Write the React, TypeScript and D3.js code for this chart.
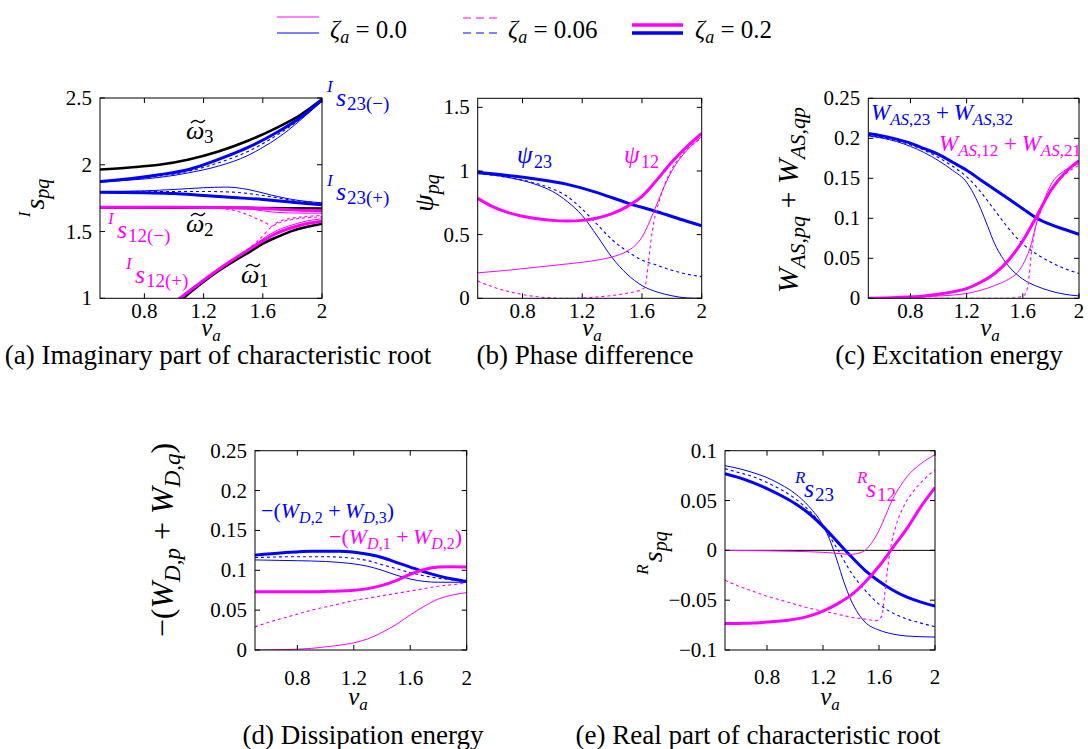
import React from "react";
import * as d3 from "d3";

const SERIF = "Liberation Serif, DejaVu Serif, serif";
const MAG = "#ff00ff";
const BLU = "#0000ff";
const BLK = "#000000";

type Pt = [number, number];

const NU_TICKS = [0.8, 1.2, 1.6, 2];

// ---------- (a) imaginary part ----------
const A_OMEGA3: Pt[] = [[0.5,1.965],[0.7,1.98],[0.9,2.0],[1.1,2.04],[1.3,2.1],[1.5,2.18],[1.7,2.28],[1.85,2.37],[2.0,2.49]];
const A_OMEGA2: Pt[] = [[0.5,1.68],[1.0,1.679],[1.5,1.677],[2.0,1.672]];
const A_OMEGA1: Pt[] = [[1.0,0.945],[1.06,1.0],[1.2,1.125],[1.3,1.205],[1.4,1.275],[1.5,1.34],[1.6,1.41],[1.7,1.46],[1.8,1.505],[1.9,1.535],[2.0,1.558]];
const A_S23M_THIN: Pt[] = [[0.5,1.87],[0.7,1.885],[0.9,1.905],[1.1,1.94],[1.3,1.99],[1.5,2.07],[1.6,2.13],[1.7,2.2],[1.85,2.33],[2.0,2.48]];
const A_S23M_DASH: Pt[] = [[0.5,1.872],[0.7,1.89],[0.9,1.915],[1.1,1.952],[1.3,2.015],[1.5,2.1],[1.7,2.225],[1.85,2.34],[2.0,2.482]];
const A_S23M_THICK: Pt[] = [[0.5,1.875],[0.7,1.895],[0.9,1.925],[1.1,1.965],[1.3,2.04],[1.5,2.13],[1.7,2.245],[1.85,2.35],[2.0,2.485]];
const A_S23P_THIN: Pt[] = [[0.5,1.80],[0.8,1.805],[1.0,1.815],[1.2,1.828],[1.35,1.833],[1.5,1.815],[1.65,1.775],[1.8,1.74],[2.0,1.715]];
const A_S23P_DASH: Pt[] = [[0.5,1.797],[0.8,1.798],[1.0,1.80],[1.2,1.80],[1.4,1.795],[1.6,1.77],[1.8,1.735],[2.0,1.71]];
const A_S23P_THICK: Pt[] = [[0.5,1.795],[0.8,1.79],[1.0,1.785],[1.2,1.77],[1.4,1.755],[1.6,1.74],[1.8,1.72],[2.0,1.70]];
const A_S12M_THIN: Pt[] = [[0.5,1.682],[1.2,1.682],[1.4,1.678],[1.5,1.67],[1.6,1.655],[1.7,1.643],[1.85,1.638],[2.0,1.637]];
const A_S12M_DASH: Pt[] = [[0.5,1.682],[1.2,1.68],[1.35,1.67],[1.45,1.645],[1.55,1.6],[1.62,1.565],[1.66,1.54],[1.7,1.57],[1.8,1.6],[2.0,1.62]];
const A_S12M_THICK: Pt[] = [[0.5,1.682],[1.0,1.682],[1.3,1.68],[1.5,1.676],[1.7,1.667],[1.85,1.66],[2.0,1.655]];
const A_S12P_THIN: Pt[] = [[1.0,0.965],[1.04,1.0],[1.2,1.135],[1.3,1.215],[1.4,1.29],[1.5,1.362],[1.6,1.445],[1.7,1.51],[1.8,1.55],[1.9,1.58],[2.0,1.595]];
const A_S12P_DASH: Pt[] = [[1.0,0.965],[1.04,1.0],[1.2,1.135],[1.3,1.215],[1.4,1.29],[1.5,1.37],[1.58,1.445],[1.66,1.535],[1.7,1.56],[1.8,1.59],[2.0,1.61]];
const A_S12P_THICK: Pt[] = [[1.0,0.965],[1.04,1.0],[1.2,1.135],[1.3,1.215],[1.4,1.29],[1.5,1.36],[1.6,1.43],[1.7,1.49],[1.8,1.53],[1.9,1.56],[2.0,1.578]];

// ---------- (b) phase difference ----------
const B_P23_THIN: Pt[] = [[0.5,0.98],[0.7,0.95],[0.9,0.89],[1.0,0.84],[1.1,0.76],[1.2,0.65],[1.3,0.49],[1.4,0.32],[1.5,0.19],[1.6,0.10],[1.7,0.05],[1.8,0.02],[1.9,0.003],[2.0,0.0]];
const B_P23_DASH: Pt[] = [[0.5,0.98],[0.7,0.95],[0.9,0.90],[1.0,0.86],[1.1,0.80],[1.2,0.70],[1.3,0.58],[1.4,0.46],[1.5,0.37],[1.6,0.30],[1.7,0.26],[1.8,0.22],[1.9,0.19],[2.0,0.17]];
const B_P23_THICK: Pt[] = [[0.5,0.99],[0.7,0.965],[0.9,0.935],[1.1,0.895],[1.3,0.83],[1.5,0.75],[1.7,0.68],[1.9,0.605],[2.0,0.57]];
const B_P12_THIN: Pt[] = [[0.5,0.20],[0.7,0.22],[0.9,0.245],[1.1,0.27],[1.3,0.30],[1.4,0.325],[1.5,0.37],[1.55,0.41],[1.6,0.48],[1.65,0.6],[1.7,0.74],[1.75,0.88],[1.8,1.0],[1.85,1.09],[1.9,1.16],[2.0,1.27]];
const B_P12_DASH: Pt[] = [[0.5,0.135],[0.6,0.09],[0.7,0.055],[0.8,0.03],[0.9,0.012],[1.0,0.003],[1.1,0.0],[1.2,0.003],[1.3,0.01],[1.4,0.022],[1.5,0.04],[1.6,0.07],[1.62,0.09],[1.64,0.25],[1.66,0.45],[1.68,0.6],[1.72,0.78],[1.78,0.97],[1.85,1.1],[1.92,1.19],[2.0,1.255]];
const B_P12_THICK: Pt[] = [[0.5,0.785],[0.6,0.72],[0.7,0.675],[0.8,0.645],[0.9,0.625],[1.0,0.612],[1.1,0.608],[1.2,0.612],[1.3,0.63],[1.4,0.665],[1.5,0.72],[1.6,0.80],[1.7,0.93],[1.8,1.07],[1.9,1.19],[2.0,1.295]];

// ---------- (c) excitation energy ----------
const C_W23_THIN: Pt[] = [[0.5,0.203],[0.7,0.196],[0.9,0.182],[1.0,0.172],[1.1,0.16],[1.2,0.145],[1.3,0.112],[1.35,0.09],[1.4,0.068],[1.45,0.052],[1.5,0.04],[1.6,0.024],[1.7,0.015],[1.8,0.009],[1.9,0.005],[2.0,0.003]];
const C_W23_DASH: Pt[] = [[0.5,0.204],[0.7,0.197],[0.9,0.185],[1.0,0.176],[1.1,0.165],[1.2,0.152],[1.3,0.133],[1.4,0.11],[1.5,0.087],[1.6,0.068],[1.7,0.055],[1.8,0.045],[1.9,0.037],[2.0,0.031]];
const C_W23_THICK: Pt[] = [[0.5,0.206],[0.6,0.203],[0.7,0.199],[0.8,0.194],[0.9,0.187],[1.0,0.18],[1.1,0.17],[1.2,0.16],[1.3,0.148],[1.4,0.136],[1.5,0.124],[1.6,0.112],[1.7,0.10],[1.8,0.092],[1.9,0.086],[2.0,0.08]];
const C_W12_THIN: Pt[] = [[0.5,0.0],[0.9,0.002],[1.1,0.004],[1.2,0.006],[1.3,0.01],[1.4,0.016],[1.5,0.024],[1.55,0.03],[1.6,0.042],[1.65,0.062],[1.7,0.095],[1.75,0.122],[1.8,0.142],[1.9,0.16],[2.0,0.168]];
const C_W12_DASH: Pt[] = [[0.5,0.0],[1.5,0.0],[1.6,0.003],[1.62,0.006],[1.64,0.02],[1.66,0.055],[1.68,0.08],[1.72,0.105],[1.8,0.135],[1.9,0.155],[2.0,0.166]];
const C_W12_THICK: Pt[] = [[0.5,0.0],[0.7,0.001],[0.9,0.003],[1.0,0.005],[1.1,0.008],[1.2,0.012],[1.3,0.02],[1.4,0.031],[1.5,0.048],[1.6,0.072],[1.7,0.103],[1.8,0.135],[1.9,0.157],[2.0,0.172]];

// ---------- (d) dissipation energy ----------
const D_W23_THIN: Pt[] = [[0.5,0.113],[0.8,0.112],[1.0,0.111],[1.2,0.108],[1.3,0.105],[1.4,0.10],[1.5,0.094],[1.6,0.089],[1.7,0.086],[1.8,0.085],[2.0,0.085]];
const D_W23_DASH: Pt[] = [[0.5,0.116],[0.8,0.117],[1.0,0.117],[1.2,0.115],[1.3,0.112],[1.4,0.107],[1.5,0.102],[1.6,0.097],[1.7,0.093],[1.8,0.09],[1.9,0.088],[2.0,0.086]];
const D_W23_THICK: Pt[] = [[0.5,0.119],[0.7,0.122],[0.9,0.124],[1.1,0.124],[1.3,0.12],[1.4,0.116],[1.5,0.11],[1.6,0.104],[1.7,0.098],[1.8,0.093],[1.9,0.089],[2.0,0.086]];
const D_W12_THIN: Pt[] = [[0.5,0.0],[0.7,0.0005],[0.9,0.002],[1.0,0.004],[1.1,0.006],[1.2,0.009],[1.3,0.014],[1.4,0.022],[1.5,0.032],[1.6,0.044],[1.7,0.055],[1.8,0.064],[1.9,0.069],[2.0,0.072]];
const D_W12_DASH: Pt[] = [[0.5,0.029],[0.6,0.035],[0.7,0.04],[0.8,0.045],[0.9,0.05],[1.0,0.054],[1.1,0.058],[1.2,0.062],[1.3,0.065],[1.4,0.068],[1.5,0.071],[1.6,0.074],[1.7,0.077],[1.8,0.080],[1.9,0.082],[2.0,0.084]];
const D_W12_THICK: Pt[] = [[0.5,0.073],[0.8,0.073],[1.0,0.0735],[1.1,0.074],[1.2,0.075],[1.3,0.077],[1.4,0.081],[1.5,0.087],[1.6,0.095],[1.7,0.101],[1.8,0.104],[1.9,0.1045],[2.0,0.104]];

// ---------- (e) real part ----------
const E_S23_THIN: Pt[] = [[0.5,0.085],[0.6,0.082],[0.7,0.078],[0.8,0.073],[0.9,0.066],[1.0,0.057],[1.1,0.044],[1.2,0.025],[1.25,0.01],[1.3,-0.01],[1.35,-0.032],[1.4,-0.05],[1.45,-0.063],[1.5,-0.072],[1.6,-0.080],[1.7,-0.084],[1.8,-0.086],[2.0,-0.087]];
const E_S23_DASH: Pt[] = [[0.5,0.082],[0.6,0.078],[0.7,0.074],[0.8,0.068],[0.9,0.061],[1.0,0.052],[1.1,0.04],[1.2,0.024],[1.3,0.002],[1.4,-0.022],[1.5,-0.04],[1.6,-0.054],[1.7,-0.063],[1.8,-0.069],[1.9,-0.073],[2.0,-0.0766]];
const E_S23_THICK: Pt[] = [[0.5,0.077],[0.6,0.073],[0.7,0.068],[0.8,0.062],[0.9,0.055],[1.0,0.047],[1.1,0.037],[1.2,0.024],[1.3,0.009],[1.4,-0.006],[1.5,-0.02],[1.6,-0.031],[1.7,-0.04],[1.8,-0.047],[1.9,-0.052],[2.0,-0.056]];
const E_S12_THIN: Pt[] = [[0.5,0.0],[0.8,-0.0005],[1.0,-0.001],[1.2,-0.002],[1.3,-0.003],[1.4,-0.004],[1.45,-0.003],[1.5,0.0],[1.55,0.008],[1.6,0.02],[1.65,0.036],[1.7,0.052],[1.75,0.064],[1.8,0.074],[1.9,0.087],[2.0,0.096]];
const E_S12_DASH: Pt[] = [[0.5,-0.03],[0.6,-0.036],[0.7,-0.041],[0.8,-0.046],[0.9,-0.05],[1.0,-0.054],[1.1,-0.058],[1.2,-0.061],[1.3,-0.064],[1.4,-0.067],[1.5,-0.069],[1.58,-0.0705],[1.62,-0.066],[1.64,-0.045],[1.66,-0.02],[1.68,0.0],[1.72,0.024],[1.78,0.045],[1.85,0.06],[1.92,0.071],[2.0,0.0806]];
const E_S12_THICK: Pt[] = [[0.5,-0.0735],[0.6,-0.0733],[0.7,-0.073],[0.8,-0.072],[0.9,-0.071],[1.0,-0.069],[1.1,-0.066],[1.2,-0.061],[1.3,-0.054],[1.4,-0.045],[1.5,-0.032],[1.6,-0.016],[1.7,0.003],[1.8,0.022],[1.9,0.044],[2.0,0.063]];

const A_YTICKS = [1, 1.5, 2, 2.5];
const B_YTICKS = [0, 0.5, 1, 1.5];
const CD_YTICKS = [0, 0.05, 0.1, 0.15, 0.2, 0.25];
const E_YTICKS = [-0.1, -0.05, 0, 0.05, 0.1];

type Style = "thin" | "dash" | "thick" | "black";
type Series = { data: Pt[]; color: string; style: Style };

const STYLE: Record<Style, { w: number; dash?: string }> = {
  thin: { w: 1 },
  dash: { w: 1.1, dash: "3,3" },
  thick: { w: 3 },
  black: { w: 2.6 },
};

const TICK_FS = 21;
const TITLE_FS = 27;

type Box = { x0: number; x1: number; y0: number; y1: number };

function Panel({ id, box, yDom, yTicks, series, zeroLine, xLabOff }: { id: string; box: Box; yDom: [number, number]; yTicks: number[]; series: Series[]; zeroLine?: boolean; xLabOff: number }) {
  const x = d3.scaleLinear().domain([0.5, 2]).range([box.x0, box.x1]);
  const y = d3.scaleLinear().domain(yDom).range([box.y1, box.y0]);
  const line = d3.line<Pt>().x((d) => x(d[0])).y((d) => y(d[1])).curve(d3.curveMonotoneX);
  const tl = 5;
  const fmt = (v: number) => String(v).replace("-", "\u2212");
  return (
    <g>
      <defs>
        <clipPath id={id}>
          <rect x={box.x0} y={box.y0} width={box.x1 - box.x0} height={box.y1 - box.y0} />
        </clipPath>
      </defs>
      {zeroLine && <line x1={box.x0} x2={box.x1} y1={y(0)} y2={y(0)} stroke={BLK} strokeWidth={1} />}
      <g clipPath={`url(#${id})`}>
        {series.map((s, i) => (
          <path key={i} d={line(s.data) || ""} fill="none" stroke={s.color} strokeWidth={STYLE[s.style].w} strokeDasharray={STYLE[s.style].dash} strokeLinejoin="round" />
        ))}
      </g>
      <rect x={box.x0} y={box.y0} width={box.x1 - box.x0} height={box.y1 - box.y0} fill="none" stroke={BLK} strokeWidth={1} />
      {NU_TICKS.map((v) => (
        <g key={"x" + v}>
          <line x1={x(v)} x2={x(v)} y1={box.y1} y2={box.y1 - tl} stroke={BLK} />
          <line x1={x(v)} x2={x(v)} y1={box.y0} y2={box.y0 + tl} stroke={BLK} />
          <text x={x(v)} y={box.y1 + xLabOff} textAnchor="middle" fontSize={TICK_FS}>{fmt(v)}</text>
        </g>
      ))}
      {yTicks.map((v) => (
        <g key={"y" + v}>
          <line x1={box.x0} x2={box.x0 + tl} y1={y(v)} y2={y(v)} stroke={BLK} />
          <line x1={box.x1} x2={box.x1 - tl} y1={y(v)} y2={y(v)} stroke={BLK} />
          <text x={box.x0 - 8} y={y(v) + 7} textAnchor="end" fontSize={TICK_FS}>{fmt(v)}</text>
        </g>
      ))}
    </g>
  );
}

const it = { fontStyle: "italic" as const };

function NuLabel({ x, y }: { x: number; y: number }) {
  return (
    <text x={x} y={y} textAnchor="middle" fontSize={25}>
      <tspan {...it}>ν</tspan>
      <tspan {...it} fontSize={17} dy={5}>a</tspan>
    </text>
  );
}

function Title({ x, y, children }: { x: number; y: number; children: React.ReactNode }) {
  return (
    <text x={x} y={y} textAnchor="middle" fontSize={TITLE_FS}>{children}</text>
  );
}

function SupS({ x, y, sup, sub, color }: { x: number; y: number; sup: string; sub: string; color: string }) {
  return (
    <text fill={color}>
      <tspan x={x} y={y - 14} fontSize={17} {...it}>{sup}</tspan>
      <tspan x={x + 9} y={y} fontSize={26} {...it}>s</tspan>
      <tspan x={x + 20} y={y + 4} fontSize={19}>{sub}</tspan>
    </text>
  );
}

function OmegaT({ x, y, n }: { x: number; y: number; n: string }) {
  return (
    <g>
      <path d={`M${x + 5},${y - 16} q3.5,-4 7,-1.5 t7,-1.5`} fill="none" stroke={BLK} strokeWidth={1.3} />
      <text fill={BLK}>
        <tspan x={x} y={y} fontSize={26} {...it}>ω</tspan>
        <tspan x={x + 18} y={y + 4} fontSize={19}>{n}</tspan>
      </text>
    </g>
  );
}

function LegendItem({ x0, x1, ym, yb, w, dash, label, tx }: { x0: number; x1: number; ym: number; yb: number; w: number; dash?: string; label: string; tx: number }) {
  return (
    <g>
      <line x1={x0} x2={x1} y1={ym} y2={ym} stroke={MAG} strokeWidth={w} strokeDasharray={dash} />
      <line x1={x0} x2={x1} y1={yb} y2={yb} stroke={BLU} strokeWidth={w} strokeDasharray={dash} />
      <text x={tx} y={38} fontSize={25}>
        <tspan {...it}>ζ</tspan>
        <tspan {...it} fontSize={18} dy={5}>a</tspan>
        <tspan dy={-5}> = {label}</tspan>
      </text>
    </g>
  );
}

function WLabel({ x, y, color, fs, sfs, pre, a, b, post, rot }: { x: number; y: number; color: string; fs: number; sfs: number; pre?: string; a: string; b: string; post?: string; rot?: boolean }) {
  const dy = Math.round(fs * 0.22);
  const parts = (s: string) => {
    const i = s.indexOf(",");
    const head = s.slice(0, i);
    const tail = s.slice(i);
    const tailNum = /^,\d+$/.test(tail);
    return tailNum ? (
      <>
        <tspan {...it} fontSize={sfs} dy={dy}>{head}</tspan>
        <tspan fontSize={sfs}>{tail}</tspan>
      </>
    ) : (
      <tspan {...it} fontSize={sfs} dy={dy}>{s}</tspan>
    );
  };
  return (
    <text
      x={rot ? undefined : x}
      y={rot ? undefined : y}
      transform={rot ? `translate(${x},${y}) rotate(-90)` : undefined}
      textAnchor={rot ? "middle" : "start"}
      fontSize={fs}
      fill={color}
    >
      {pre && <tspan>{pre}</tspan>}
      <tspan {...it}>W</tspan>
      {parts(a)}
      <tspan dy={-dy}>{rot ? " + " : " +\u2009"}</tspan>
      <tspan {...it}>W</tspan>
      {parts(b)}
      {post && <tspan dy={-dy}>{post}</tspan>}
    </text>
  );
}

export default function App() {
  const boxA: Box = { x0: 100, x1: 322, y0: 98, y1: 298.3 };
  const boxB: Box = { x0: 477.7, x1: 701.7, y0: 98.3, y1: 298.3 };
  const boxC: Box = { x0: 868.3, x1: 1079, y0: 98.3, y1: 298.3 };
  const boxD: Box = { x0: 255, x1: 466.7, y0: 450.7, y1: 650 };
  const boxE: Box = { x0: 725, x1: 935, y0: 450.7, y1: 650 };

  const mk = (thin: Pt[], dash: Pt[], thick: Pt[], color: string): Series[] => [
    { data: thin, color, style: "thin" },
    { data: dash, color, style: "dash" },
    { data: thick, color, style: "thick" },
  ];

  const seriesA: Series[] = [
    { data: A_OMEGA3, color: BLK, style: "black" },
    { data: A_OMEGA2, color: BLK, style: "black" },
    { data: A_OMEGA1, color: BLK, style: "black" },
    ...mk(A_S23M_THIN, A_S23M_DASH, A_S23M_THICK, BLU),
    ...mk(A_S23P_THIN, A_S23P_DASH, A_S23P_THICK, BLU),
    ...mk(A_S12M_THIN, A_S12M_DASH, A_S12M_THICK, MAG),
    ...mk(A_S12P_THIN, A_S12P_DASH, A_S12P_THICK, MAG),
  ];
  const seriesB = [...mk(B_P23_THIN, B_P23_DASH, B_P23_THICK, BLU), ...mk(B_P12_THIN, B_P12_DASH, B_P12_THICK, MAG)];
  const seriesC = [...mk(C_W23_THIN, C_W23_DASH, C_W23_THICK, BLU), ...mk(C_W12_THIN, C_W12_DASH, C_W12_THICK, MAG)];
  const seriesD = [...mk(D_W23_THIN, D_W23_DASH, D_W23_THICK, BLU), ...mk(D_W12_THIN, D_W12_DASH, D_W12_THICK, MAG)];
  const seriesE = [...mk(E_S23_THIN, E_S23_DASH, E_S23_THICK, BLU), ...mk(E_S12_THIN, E_S12_DASH, E_S12_THICK, MAG)];

  return (
    <svg width={1088} height={749} style={{ position: "absolute", left: 0, top: 0, background: "#fff", fontFamily: SERIF }}>
      {/* legend */}
      <LegendItem x0={277} x1={319} ym={17} yb={33} w={1} label="0.0" tx={330} />
      <LegendItem x0={463} x1={499} ym={18} yb={33} w={1.2} dash="8,5" label="0.06" tx={508} />
      <LegendItem x0={632} x1={683} ym={25} yb={33} w={3.5} label="0.2" tx={695} />

      {/* (a) */}
      <Panel id="ca" box={boxA} yDom={[1, 2.5]} yTicks={A_YTICKS} series={seriesA} xLabOff={20} />
      <OmegaT x={186} y={139} n="3" />
      <OmegaT x={186} y={232} n="2" />
      <OmegaT x={241} y={283} n="1" />
      <SupS x={108} y={238} sup="I" sub="12(−)" color={MAG} />
      <SupS x={126} y={283} sup="I" sub="12(+)" color={MAG} />
      <SupS x={327} y={106} sup="I" sub="23(−)" color={BLU} />
      <SupS x={327} y={200} sup="I" sub="23(+)" color={BLU} />
      <text transform="translate(44,198) rotate(-90)" textAnchor="middle">
        <tspan {...it} fontSize={17} dy={-14}>I</tspan>
        <tspan {...it} fontSize={28} dy={14} dx={2}>s</tspan>
        <tspan {...it} fontSize={20} dy={5}>pq</tspan>
      </text>
      <NuLabel x={211} y={336} />
      <Title x={218} y={364}>(a) Imaginary part of characteristic root</Title>

      {/* (b) */}
      <Panel id="cb" box={boxB} yDom={[0, Math.PI / 2]} yTicks={B_YTICKS} series={seriesB} xLabOff={20} />
      <text fill={BLU}>
        <tspan x={517} y={163} fontSize={25} {...it}>ψ</tspan>
        <tspan x={534} y={168} fontSize={18}>23</tspan>
      </text>
      <text fill={MAG}>
        <tspan x={624} y={163} fontSize={25} {...it}>ψ</tspan>
        <tspan x={641} y={168} fontSize={18}>12</tspan>
      </text>
      <text transform="translate(433,193) rotate(-90)" textAnchor="middle">
        <tspan {...it} fontSize={28}>ψ</tspan>
        <tspan {...it} fontSize={20} dy={6}>pq</tspan>
      </text>
      <NuLabel x={592} y={336} />
      <Title x={585} y={364}>(b) Phase difference</Title>

      {/* (c) */}
      <Panel id="cc" box={boxC} yDom={[0, 0.25]} yTicks={CD_YTICKS} series={seriesC} xLabOff={20} />
      <WLabel x={871} y={120} color={BLU} fs={23} sfs={17} a="AS,23" b="AS,32" />
      <WLabel x={939} y={151} color={MAG} fs={23} sfs={17} a="AS,12" b="AS,21" />
      <WLabel x={798} y={200} color={BLK} fs={30} sfs={22} a="AS,pq" b="AS,qp" rot />
      <NuLabel x={990} y={336} />
      <Title x={949} y={364}>(c) Excitation energy</Title>

      {/* (d) */}
      <Panel id="cd" box={boxD} yDom={[0, 0.25]} yTicks={CD_YTICKS} series={seriesD} xLabOff={35} />
      <WLabel x={261} y={518} color={BLU} fs={22} sfs={16} pre="−(" a="D,2" b="D,3" post=")" />
      <WLabel x={329} y={544} color={MAG} fs={22} sfs={16} pre="−(" a="D,1" b="D,2" post=")" />
      <WLabel x={173} y={540} color={BLK} fs={32} sfs={23} pre="−(" a="D,p" b="D,q" post=")" rot />
      <NuLabel x={358} y={705} />
      <Title x={363} y={744}>(d) Dissipation energy</Title>

      {/* (e) */}
      <Panel id="ce" box={boxE} yDom={[-0.1, 0.1]} yTicks={E_YTICKS} series={seriesE} zeroLine xLabOff={34} />
      <SupS x={795} y={497} sup="R" sub="23" color={BLU} />
      <SupS x={857} y={497} sup="R" sub="12" color={MAG} />
      <text transform="translate(662,553) rotate(-90)" textAnchor="middle">
        <tspan {...it} fontSize={17} dy={-14}>R</tspan>
        <tspan {...it} fontSize={28} dy={14} dx={2}>s</tspan>
        <tspan {...it} fontSize={20} dy={5}>pq</tspan>
      </text>
      <NuLabel x={830} y={705} />
      <Title x={758} y={744}>(e) Real part of characteristic root</Title>
    </svg>
  );
}
